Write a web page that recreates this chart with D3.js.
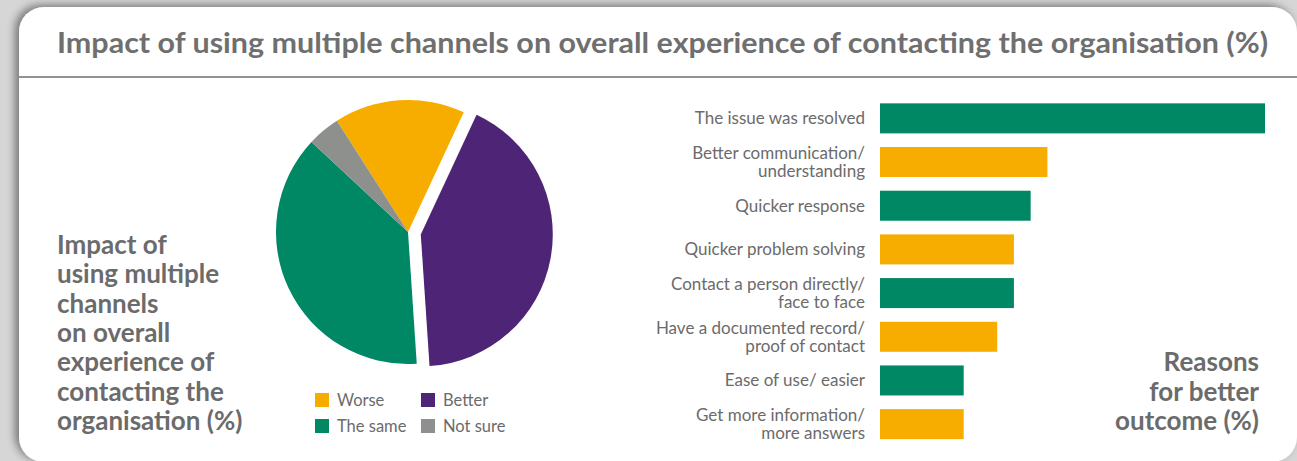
<!DOCTYPE html>
<html>
<head>
<meta charset="utf-8">
<script src="https://cdn.jsdelivr.net/npm/d3@7"></script>
<style>
  html, body { margin: 0; padding: 0; background: #d6d6d6; }
  svg { display: block; }
  text { font-family: Lato, "Open Sans", sans-serif; }
</style>
</head>
<body>
<svg id="chart" width="1297" height="461"></svg>
<script>
// Overall experience (pie)
const pieCategories = ["Worse", "Better", "The same", "Not sure"];
const pieValues = [16, 42, 38, 4];

// Reasons for better outcome (bars)
const reasonLabels = [
  ["The issue was resolved"],
  ["Better communication/", "understanding"],
  ["Quicker response"],
  ["Quicker problem solving"],
  ["Contact a person directly/", "face to face"],
  ["Have a documented record/", "proof of contact"],
  ["Ease of use/ easier"],
  ["Get more information/", "more answers"]
];
const reasonValues = [46, 20, 18, 16, 16, 14, 10, 10];

const title = "Impact of using multiple channels on overall experience of contacting the organisation (%)";
const leftHeading = ["Impact of", "using multiple", "channels", "on overall", "experience of", "contacting the", "organisation (%)"];
const rightHeading = ["Reasons", "for better", "outcome (%)"];

const colours = { "Worse": "#f7ac00", "Better": "#4e2477", "The same": "#008763", "Not sure": "#8e908e" };
const barColours = ["#008763", "#f7ac00"];
const textGrey = "#6b6b6b";

const svg = d3.select("#chart");
const defs = svg.append("defs");
const shadow = defs.append("filter").attr("id", "cardShadow")
  .attr("x", "-5%").attr("y", "-10%").attr("width", "110%").attr("height", "120%");
shadow.append("feDropShadow").attr("dx", -4).attr("dy", -2)
  .attr("stdDeviation", 4).attr("flood-color", "#000").attr("flood-opacity", 0.45);

// Card
svg.append("rect").attr("x", 19).attr("y", 7).attr("width", 1278).attr("height", 455)
  .attr("rx", 25).attr("fill", "#ffffff").attr("filter", "url(#cardShadow)");

// Title and rule
svg.append("text").attr("x", 57).attr("y", 53)
  .attr("font-size", 28).attr("font-weight", 700).attr("fill", "#6f6f6f")
  .attr("textLength", 1211).attr("lengthAdjust", "spacingAndGlyphs")
  .text(title);
svg.append("line").attr("x1", 19).attr("x2", 1297).attr("y1", 77).attr("y2", 77)
  .attr("stroke", "#6d6d6d").attr("stroke-width", 1.5);

// Left heading
svg.append("g").selectAll("text").data(leftHeading).join("text")
  .attr("x", 57).attr("y", (d, i) => 254 + i * 29.3)
  .attr("font-size", 26).attr("font-weight", 700).attr("fill", textGrey)
  .text(d => d);

// Pie
const cx = 408, cy = 232, radius = 132, explode = 13;
const start = -32.6 * Math.PI / 180;
const pie = d3.pie().sort(null).startAngle(start).endAngle(start + 2 * Math.PI);
const arcs = pie(pieValues).map((a, i) => Object.assign(a, { name: pieCategories[i] }));
const arc = d3.arc().innerRadius(0).outerRadius(radius);
svg.append("g").attr("transform", `translate(${cx},${cy})`)
  .selectAll("path").data(arcs).join("path")
  .attr("d", arc)
  .attr("fill", d => colours[d.name])
  .attr("transform", d => {
    if (d.name !== "Better") return null;
    const mid = (d.startAngle + d.endAngle) / 2;
    return `translate(${explode * Math.sin(mid)},${-explode * Math.cos(mid)})`;
  });

// Legend
const legendPos = [[315, 393], [421, 393], [315, 419], [421, 419]];
const legendOrder = ["Worse", "Better", "The same", "Not sure"];
const legend = svg.append("g").selectAll("g").data(legendOrder).join("g")
  .attr("transform", (d, i) => `translate(${legendPos[i][0]},${legendPos[i][1]})`);
legend.append("rect").attr("width", 14).attr("height", 14).attr("fill", d => colours[d]);
legend.append("text").attr("x", 22).attr("y", 12.5)
  .attr("font-size", 16.5).attr("fill", textGrey).text(d => d);

// Bars
const x = d3.scaleLinear().domain([0, 46]).range([880, 1265]);
const y = d3.scaleBand().domain(d3.range(reasonValues.length))
  .range([96.5, 446]).paddingInner(0.313).paddingOuter(0.157);

svg.append("g").selectAll("rect").data(reasonValues).join("rect")
  .attr("x", x(0)).attr("y", (d, i) => y(i))
  .attr("width", d => x(d) - x(0)).attr("height", y.bandwidth())
  .attr("fill", (d, i) => barColours[i % 2]);

const labels = svg.append("g").selectAll("text").data(reasonLabels).join("text")
  .attr("text-anchor", "end").attr("font-size", 17).attr("fill", textGrey)
  .attr("transform", (d, i) => `translate(865,${y(i) + y.bandwidth() / 2})`);
labels.selectAll("tspan").data(d => d.map((t, j) => ({ t, j, n: d.length }))).join("tspan")
  .attr("x", 0)
  .attr("y", d => (d.j - (d.n - 1) / 2) * 18.5 + 6)
  .text(d => d.t);

// Right heading
svg.append("g").selectAll("text").data(rightHeading).join("text")
  .attr("x", 1259).attr("y", (d, i) => 371 + i * 29.5)
  .attr("text-anchor", "end")
  .attr("font-size", 26).attr("font-weight", 700).attr("fill", textGrey)
  .text(d => d);
</script>
</body>
</html>
